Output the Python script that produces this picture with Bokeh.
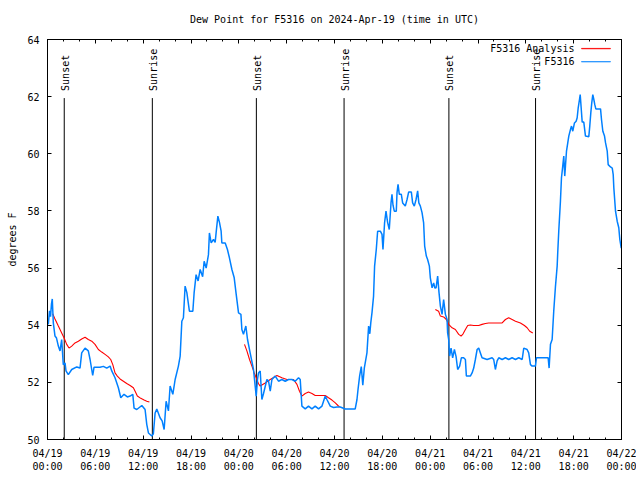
import math
from bokeh.plotting import figure
from bokeh.models import (Range1d, FixedTicker, LinearAxis, Label, BoxAnnotation,
                          ColumnDataSource, CustomLabelingPolicy)
from bokeh.core.properties import value
from bokeh.embed import file_html
from bokeh.resources import INLINE

NAN = float("nan")
FONT = "DejaVu Sans Mono"

title_text = "Dew Point for F5316 on 2024-Apr-19 (time in UTC)"
y_label = "degrees F"

# x axis: hours since 2024-04-19 00:00 UTC
x_ticks = [0, 6, 12, 18, 24, 30, 36, 42, 48, 54, 60, 66, 72]
x_tick_labels = ["04/19\n00:00", "04/19\n06:00", "04/19\n12:00", "04/19\n18:00",
                 "04/20\n00:00", "04/20\n06:00", "04/20\n12:00", "04/20\n18:00",
                 "04/21\n00:00", "04/21\n06:00", "04/21\n12:00", "04/21\n18:00",
                 "04/22\n00:00"]
x_minor = list(range(0, 73, 2))
y_ticks = [50, 52, 54, 56, 58, 60, 62, 64]

sun_hours = [2.10, 13.15, 26.20, 37.20, 50.35, 61.22]
sun_labels = ["Sunset", "Sunrise", "Sunset", "Sunrise", "Sunset", "Sunrise"]

series_names = ["F5316 Analysis", "F5316"]
series_colors = ["#ff0000", "#0080ff"]

obs_hours = [0.10, 0.25, 0.38, 0.50, 0.60, 0.73, 0.94, 1.13, 1.36, 1.57, 1.78, 1.98, 2.20, 2.32,
             2.61, 3.04, 3.67, 4.08, 4.29, 4.71, 5.12, 5.34, 5.67, 5.84, 6.59, 7.01, 7.43, 7.85,
             8.06, 8.47, 8.89, 9.19, 9.60, 10.02, 10.36, 10.70, 10.86, 11.20, 11.83, 12.24, 12.45,
             12.66, 13.08, 13.28, 13.50, 13.71, 14.12, 14.38, 14.63, 14.88, 15.17, 15.38, 15.72,
             16.01, 16.42, 16.64, 16.85, 17.05, 17.26, 17.48, 17.80, 18.23, 18.39, 18.64, 18.89,
             19.15, 19.46, 19.65, 19.90, 20.19, 20.31, 20.53, 20.82, 21.03, 21.15, 21.37, 21.57,
             21.78, 21.87, 22.29, 22.57, 22.82, 23.13, 23.42, 23.67, 23.96, 24.26, 24.38, 24.58,
             24.88, 25.09, 25.42, 25.84, 26.05, 26.18, 26.34, 26.47, 26.68, 26.89, 27.09, 27.52,
             27.72, 27.94, 28.15, 28.56, 28.98, 29.40, 29.82, 30.23, 30.66, 31.07, 31.49, 31.70,
             31.91, 32.33, 32.74, 33.17, 33.58, 34.00, 34.43, 34.84, 35.05, 35.47, 35.88, 36.31,
             36.72, 37.35, 38.60, 38.82, 38.95, 39.15, 39.36, 39.55, 39.74, 40.07, 40.28, 40.43,
             40.55, 40.70, 40.90, 41.03, 41.24, 41.41, 41.75, 41.96, 42.08, 42.28, 42.46, 42.66,
             42.87, 43.09, 43.21, 43.34, 43.50, 43.75, 43.84, 43.97, 44.13, 44.38, 44.55, 44.88,
             45.10, 45.30, 45.64, 45.80, 46.01, 46.23, 46.43, 46.58, 46.77, 46.98, 47.18, 47.31,
             47.52, 47.68, 47.90, 48.02, 48.24, 48.44, 48.59, 48.74, 48.94, 49.11, 49.28, 49.49,
             49.69, 49.91, 50.12, 50.19, 50.32, 50.44, 50.62, 50.82, 51.04, 51.25, 51.45, 51.70,
             51.91, 52.20, 52.42, 52.54, 53.04, 53.26, 53.46, 53.67, 53.89, 54.09, 54.30, 54.51,
             55.14, 55.77, 55.97, 56.18, 56.40, 56.60, 57.03, 57.44, 57.85, 58.28, 58.70, 59.11,
             59.54, 59.74, 60.16, 60.36, 60.58, 60.79, 61.20, 61.33, 62.80, 62.92, 63.09, 63.30,
             63.50, 63.72, 63.93, 64.00, 64.13, 64.34, 64.47, 64.63, 64.76, 64.88, 64.97, 65.10,
             65.26, 65.39, 65.60, 65.73, 65.89, 66.10, 66.31, 66.44, 66.57, 66.73, 66.82, 66.94,
             67.07, 67.27, 67.48, 67.90, 68.02, 68.15, 68.27, 68.40, 68.53, 68.65, 68.78, 69.37,
             69.49, 69.66, 69.87, 70.00, 70.21, 70.33, 70.62, 70.84, 70.96, 71.04, 71.25, 71.46,
             71.66, 71.79, 71.97]
obs_dewpt = [54.03, 54.50, 54.30, 54.75, 54.92, 54.08, 53.62, 53.55, 53.27, 53.10, 53.50, 52.62,
             52.68, 52.40, 52.27, 52.45, 52.54, 52.50, 53.03, 53.20, 53.10, 52.80, 52.24, 52.53,
             52.53, 52.56, 52.50, 52.57, 52.40, 52.16, 51.81, 51.46, 51.58, 51.49, 51.52, 51.58,
             51.10, 51.05, 51.19, 51.05, 50.53, 50.23, 50.12, 50.20, 50.93, 51.07, 50.76, 50.65,
             50.35, 51.34, 51.00, 51.87, 51.58, 52.10, 52.57, 52.92, 54.14, 54.26, 55.37, 55.14,
             54.49, 54.49, 55.13, 55.77, 55.55, 55.95, 55.70, 56.24, 56.00, 56.47, 57.23, 56.88,
             57.00, 56.90, 57.23, 57.82, 57.60, 57.29, 56.88, 56.88, 56.65, 56.36, 55.95, 55.66,
             55.08, 54.43, 54.38, 53.85, 53.68, 53.97, 53.50, 53.03, 52.45, 51.87, 51.52, 52.10,
             52.33, 52.40, 51.40, 51.60, 52.10, 52.05, 51.69, 52.10, 52.22, 52.04, 52.10, 52.04,
             52.10, 52.10, 52.04, 52.16, 52.10, 51.17, 51.07, 51.17, 51.07, 51.17, 51.07, 51.17,
             51.52, 51.40, 51.17, 51.12, 51.14, 51.14, 51.07, 51.07, 51.40, 51.75, 52.22, 52.55,
             51.90, 52.50, 53.03, 53.97, 53.70, 54.08, 54.43, 55.02, 56.07, 56.65, 57.29, 57.29,
             57.18, 56.65, 57.58, 57.99, 57.60, 57.35, 58.28, 58.58, 58.20, 57.99, 57.99, 58.63,
             58.93, 58.58, 58.58, 58.28, 58.17, 58.40, 58.66, 58.66, 58.28, 58.17, 58.40, 58.70,
             58.28, 58.17, 57.94, 57.58, 56.77, 56.42, 56.30, 56.07, 55.66, 55.31, 55.48, 55.30,
             55.31, 55.72, 55.14, 54.67, 54.38, 54.90, 54.38, 54.20, 53.73, 53.50, 52.92, 53.20,
             52.86, 53.15, 52.90, 52.45, 52.57, 52.86, 52.86, 52.80, 52.22, 52.22, 52.33, 52.50,
             52.80, 53.15, 53.20, 53.03, 52.86, 52.80, 52.86, 52.80, 52.45, 52.75, 52.86, 52.80,
             52.86, 52.80, 52.86, 52.80, 52.86, 52.80, 53.20, 53.15, 53.03, 52.62, 52.57, 52.57,
             52.86, 52.86, 52.50, 53.33, 53.50, 54.49, 55.37, 56.07, 56.53, 57.29, 58.34, 59.16,
             59.57, 59.92, 59.22, 59.57, 60.09, 60.38, 60.62, 60.85, 60.97, 60.79, 61.08, 61.14,
             61.26, 61.61, 61.90, 62.07, 61.61, 61.11, 61.11, 60.62, 60.60, 60.97, 61.43, 61.78,
             62.07, 61.90, 61.72, 61.57, 61.57, 61.20, 60.79, 60.62, 60.38, 60.09, 59.62, 59.54,
             59.50, 59.27, 58.80, 57.99, 57.64, 57.41, 57.00, 56.70]

ana_hours = [0.65, 0.94, 1.36, 1.78, 2.07, 2.41, 2.70, 3.04, 3.45, 3.87, 4.29, 4.71, 5.12, 5.55,
             5.96, 6.38, 6.80, 7.22, 7.63, 7.93, 8.19, 8.47, 8.76, 9.10, 9.52, 9.94, 10.36, 10.77,
             10.99, 11.27, 11.70, 12.12, 12.45, 12.78, NAN,
             24.71, 25.01, 25.34, 25.64, 25.93, 26.18, 26.34, 26.47, 26.68, 27.31, 27.94, 28.78,
             29.40, 30.03, 30.86, 31.29, 31.61, 31.91, 32.33, 32.74, 33.17, 33.58, 34.84, 35.25,
             35.68, 36.10, 36.43, 36.64, NAN,
             48.65, 49.06, 49.28, 49.69, 50.03, 50.32, 50.75, 51.16, 51.58, 51.88, 52.13, 52.42,
             52.71, 53.04, 53.46, 54.09, 54.51, 54.93, 55.34, 57.03, 57.44, 57.85, 58.28, 58.70,
             59.32, 59.82, 60.16, 60.49, 60.87]
ana_dewpt = [54.40, 54.22, 53.97, 53.73, 53.56, 53.33, 53.20, 53.27, 53.38, 53.44, 53.52, 53.58,
             53.50, 53.44, 53.33, 53.15, 53.06, 52.98, 52.89, 52.80, 52.62, 52.33, 52.22, 52.12,
             52.04, 51.96, 51.89, 51.81, 51.69, 51.52, 51.44, 51.38, 51.34, 51.31, NAN,
             53.33, 53.10, 52.80, 52.57, 52.33, 52.16, 52.04, 51.95, 51.87, 51.98, 52.10, 52.24,
             52.16, 52.10, 52.10, 51.93, 51.69, 51.52, 51.61, 51.66, 51.61, 51.54, 51.54, 51.46,
             51.38, 51.28, 51.19, 51.14, NAN,
             54.55, 54.49, 54.32, 54.29, 54.20, 54.03, 53.91, 53.85, 53.68, 53.62, 53.70, 53.85,
             53.99, 54.01, 53.99, 53.99, 54.03, 54.06, 54.08, 54.08, 54.20, 54.26, 54.20, 54.14,
             54.08, 53.99, 53.91, 53.79, 53.73]

p = figure(frame_width=574, frame_height=400, output_backend="svg", toolbar_location=None,
           x_range=Range1d(0, 72), y_range=Range1d(50, 64),
           min_border_left=39, min_border_right=11, min_border_top=31, min_border_bottom=30)
p.margin = (7, 0, 0, 4)
p.background_fill_color = "white"
p.border_fill_color = "white"
p.outline_line_color = "black"
p.outline_line_width = 1
p.xgrid.visible = False
p.ygrid.visible = False

p.title.text = title_text
p.title.align = "center"
p.title.text_font = FONT
p.title.text_font_size = "10px"
p.title.text_font_style = "normal"
p.title.text_color = "black"
p.title.standoff = 8

no_labels = CustomLabelingPolicy(code="""
for (const i of indices)
    indices.unset(i)
return indices
""")

def style_axis(ax, labels=True):
    ax.axis_line_color = "black"
    ax.major_tick_line_color = "black"
    ax.minor_tick_line_color = "black"
    ax.major_tick_in = 4
    ax.major_tick_out = 0
    ax.minor_tick_in = 2
    ax.minor_tick_out = 0
    ax.major_label_text_font = FONT
    ax.major_label_text_font_size = "10px"
    ax.major_label_text_color = "black"
    if not labels:
        ax.major_label_policy = no_labels
        ax.major_label_standoff = 0

xt = FixedTicker(ticks=x_ticks, minor_ticks=x_minor)
yt = FixedTicker(ticks=y_ticks, minor_ticks=[])

p.xaxis.ticker = xt
p.xaxis.major_label_overrides = {t: lab for t, lab in zip(x_ticks, x_tick_labels)}
style_axis(p.xaxis[0])
p.xaxis.major_label_standoff = 8

p.yaxis.ticker = yt
style_axis(p.yaxis[0])
p.yaxis.major_label_standoff = 8
p.yaxis.axis_label = y_label
p.yaxis.axis_label_text_font = FONT
p.yaxis.axis_label_text_font_size = "10px"
p.yaxis.axis_label_text_font_style = "normal"
p.yaxis.axis_label_text_color = "black"
p.yaxis.axis_label_standoff = 6

top = LinearAxis(ticker=FixedTicker(ticks=x_ticks, minor_ticks=x_minor))
style_axis(top, labels=False)
p.add_layout(top, "above")
right = LinearAxis(ticker=FixedTicker(ticks=y_ticks, minor_ticks=[]))
style_axis(right, labels=False)
p.add_layout(right, "right")

# sunrise / sunset markers
sun_src = ColumnDataSource(dict(h=sun_hours, lab=sun_labels))
p.segment(x0="h", y0=50, x1="h", y1=61.95, source=sun_src, line_color="black", line_width=1)
p.text(x="h", y=62.2, text="lab", source=sun_src, angle=math.pi / 2,
       text_align="left", text_baseline="middle", text_font=value(FONT),
       text_font_size="10px", text_color="black", x_offset=1)

# series
p.line(ana_hours, ana_dewpt, line_color=series_colors[0], line_width=1.1)
p.line(obs_hours, obs_dewpt, line_color=series_colors[1], line_width=1.5)

# legend in gnuplot style (text left, sample right)
leg_y = [63.68, 63.22]
for name, col, ly in zip(series_names, series_colors, leg_y):
    p.add_layout(Label(x=66.1, y=ly, text=name, text_align="right", text_baseline="middle",
                       text_font=FONT, text_font_size="10px", text_color="black"))
    p.add_layout(BoxAnnotation(left=66.98, right=70.62, top=ly + 0.01, bottom=ly - 0.01,
                               fill_color=col, fill_alpha=1.0, line_color=col,
                               line_alpha=1.0, line_width=0.5))

open("out.html", "w").write(file_html(p, INLINE))
